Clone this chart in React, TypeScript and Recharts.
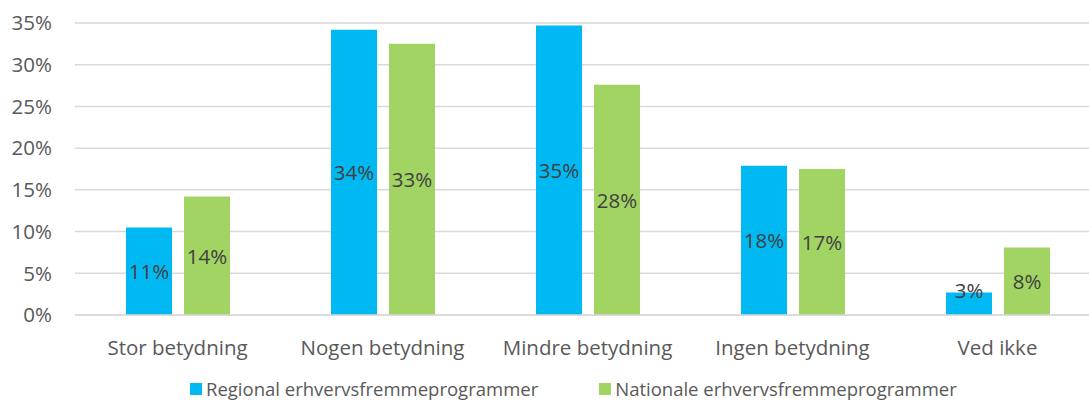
import { BarChart, Bar, XAxis, YAxis, CartesianGrid, LabelList } from "recharts";

const categories: string[] = [
  "Stor betydning",
  "Nogen betydning",
  "Mindre betydning",
  "Ingen betydning",
  "Ved ikke",
];
const regional: number[] = [0.105, 0.342, 0.347, 0.179, 0.027];
const nationale: number[] = [0.142, 0.325, 0.276, 0.175, 0.081];
const regionalLabels: string[] = ["11%", "34%", "35%", "18%", "3%"];
const nationaleLabels: string[] = ["14%", "33%", "28%", "17%", "8%"];
const yTicks: number[] = [0, 0.05, 0.1, 0.15, 0.2, 0.25, 0.3, 0.35];
const seriesNames: string[] = [
  "Regional erhvervsfremmeprogrammer",
  "Nationale erhvervsfremmeprogrammer",
];

const BLUE = "#00B9F2";
const GREEN = "#A1D463";
const FONT = "'Open Sans', sans-serif";

const data = categories.map((name, i) => ({
  name,
  regional: regional[i],
  nationale: nationale[i],
  regionalLabel: regionalLabels[i],
  nationaleLabel: nationaleLabels[i],
}));

const CenterLabel = (props: any) => {
  const { x, y, width, height, value } = props;
  const bottom = y + height;
  let cy = y + height / 2;
  // short bars: Excel pushes the label up so it stays readable
  if (bottom - cy < 24) cy = bottom - 25;
  return (
    <text
      x={x + width / 2}
      y={cy}
      textAnchor="middle"
      dominantBaseline="central"
      fill="#404040"
      fontSize={20.5}
      fontFamily={FONT}
    >
      {value}
    </text>
  );
};

const LegendBox = () => (
  <div
    style={{
      position: "absolute",
      top: 376,
      left: 190,
      display: "flex",
      gap: 61,
      fontFamily: FONT,
      fontSize: 18.5,
      lineHeight: "25px",
      color: "#595959",
      whiteSpace: "nowrap",
    }}
  >
    {seriesNames.map((label, i) => (
      <div key={label} style={{ display: "flex", alignItems: "center" }}>
        <span
          style={{
            display: "inline-block",
            width: 12,
            height: 12,
            background: i === 0 ? BLUE : GREEN,
            marginRight: 4,
          }}
        />
        {label}
      </div>
    ))}
  </div>
);

export default function App() {
  return (
    <div
      style={{ position: "relative", width: 1089, height: 401, overflow: "hidden" }}
    >
      <style>{"body{margin:0}"}</style>
      <BarChart
        width={1100}
        height={401}
        data={data}
        margin={{ top: 23, right: 0, bottom: 36, left: 0 }}
        barGap={12}
        barSize={46}
      >
        <CartesianGrid vertical={false} stroke="#D9D9D9" strokeWidth={1.5} />
        <YAxis
          width={75}
          domain={[0, 0.35]}
          ticks={yTicks}
          axisLine={false}
          tickLine={false}
          tickSize={0}
          tickMargin={23}
          tickFormatter={(v: number) => `${Math.round(v * 100)}%`}
          tick={{ fill: "#595959", fontSize: 20.5, fontFamily: FONT }}
        />
        <XAxis
          dataKey="name"
          axisLine={{ stroke: "#D9D9D9", strokeWidth: 1.5 }}
          tickLine={false}
          tickSize={0}
          tickMargin={25}
          height={50}
          tick={{ fill: "#595959", fontSize: 20.5, fontFamily: FONT }}
        />
        <Bar dataKey="regional" fill={BLUE} isAnimationActive={false}>
          <LabelList dataKey="regionalLabel" content={<CenterLabel />} />
        </Bar>
        <Bar dataKey="nationale" fill={GREEN} isAnimationActive={false}>
          <LabelList dataKey="nationaleLabel" content={<CenterLabel />} />
        </Bar>
      </BarChart>
      <LegendBox />
    </div>
  );
}
